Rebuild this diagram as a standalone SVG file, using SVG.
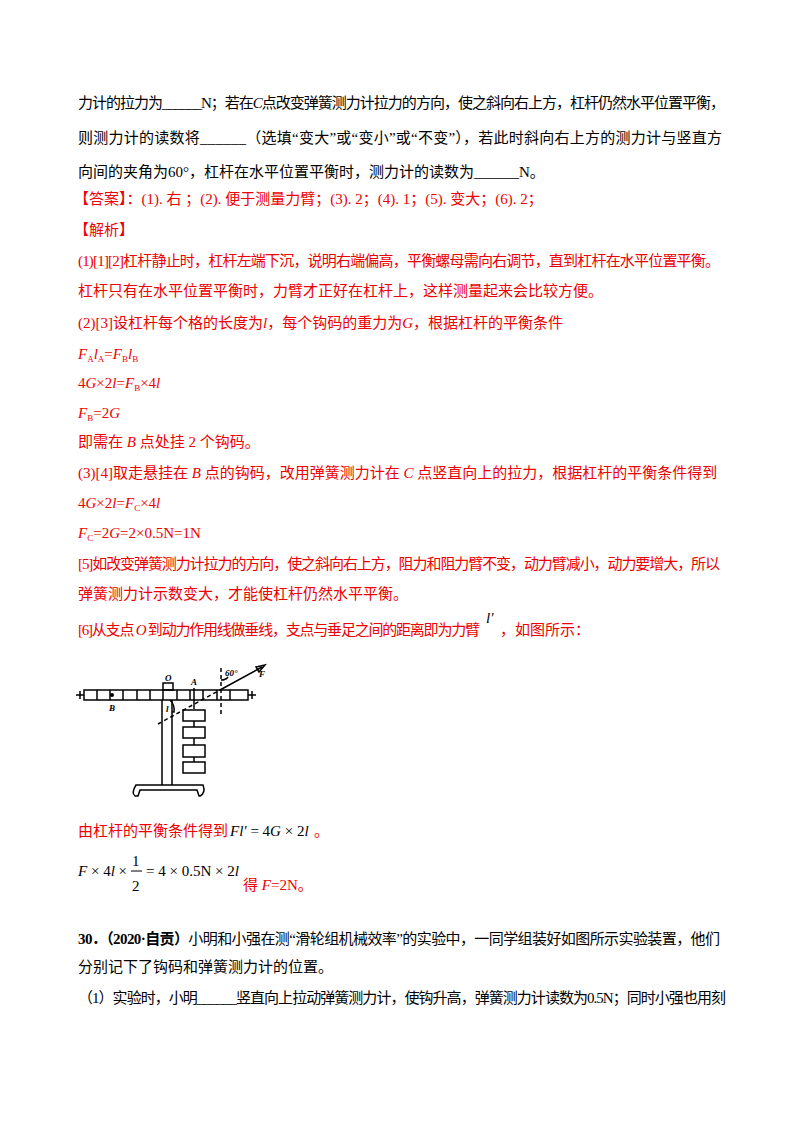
<svg xmlns="http://www.w3.org/2000/svg" width="800" height="1132" viewBox="0 0 800 1132">
<style>
text{font-family:"Liberation Serif","Noto Sans CJK SC",serif;font-size:15px;fill:#000}
.r{fill:#e00}
.i{font-style:italic}
.f line,.f rect,.f path{stroke:#000;stroke-width:1.5;fill:none}
.f text{font-size:9px;font-weight:bold;font-style:italic}
</style>
<rect width="800" height="1132" fill="#fff"/>
<g id="text">
<text x="78" y="108" textLength="647" lengthAdjust="spacing">力计的拉力为______N；若在<tspan class="i">C</tspan>点改变弹簧测力计拉力的方向，使之斜向右上方，杠杆仍然水平位置平衡，</text>
<text x="78" y="143" textLength="644" lengthAdjust="spacing">则测力计的读数将______（选填“变大”或“变小”或“不变”），若此时斜向右上方的测力计与竖直方</text>
<text x="78" y="177">向间的夹角为60°，杠杆在水平位置平衡时，测力计的读数为______N。</text>
<text class="r" x="74" y="204">【答案】：(1). 右 ；(2). 便于测量力臂；(3). 2；(4). 1；(5). 变大；(6). 2；</text>
<text class="r" x="74" y="235">【解析】</text>
<text class="r" x="78" y="266" textLength="642" lengthAdjust="spacing">(1)[1][2]杠杆静止时，杠杆左端下沉，说明右端偏高，平衡螺母需向右调节，直到杠杆在水平位置平衡。</text>
<text class="r" x="78" y="296">杠杆只有在水平位置平衡时，力臂才正好在杠杆上，这样测量起来会比较方便。</text>
<text class="r" x="78" y="328">(2)[3]设杠杆每个格的长度为<tspan class="i">l</tspan>，每个钩码的重力为<tspan class="i">G</tspan>，根据杠杆的平衡条件</text>
<text class="r" x="78" y="359"><tspan class="i">F</tspan><tspan font-size="9" dy="3">A</tspan><tspan class="i" dy="-3">l</tspan><tspan font-size="9" dy="3">A</tspan><tspan dy="-3">=</tspan><tspan class="i">F</tspan><tspan font-size="9" dy="3">B</tspan><tspan class="i" dy="-3">l</tspan><tspan font-size="9" dy="3">B</tspan></text>
<text class="r" x="78" y="388">4<tspan class="i">G</tspan>×2<tspan class="i">l</tspan>=<tspan class="i">F</tspan><tspan font-size="9" dy="3">B</tspan><tspan dy="-3">×4</tspan><tspan class="i">l</tspan></text>
<text class="r" x="78" y="418"><tspan class="i">F</tspan><tspan font-size="9" dy="3">B</tspan><tspan dy="-3">=2</tspan><tspan class="i">G</tspan></text>
<text class="r" x="78" y="447">即需在 <tspan class="i">B</tspan> 点处挂 2 个钩码。</text>
<text class="r" x="78" y="478">(3)[4]取走悬挂在 <tspan class="i">B</tspan> 点的钩码，改用弹簧测力计在 <tspan class="i">C</tspan> 点竖直向上的拉力，根据杠杆的平衡条件得到</text>
<text class="r" x="78" y="508">4<tspan class="i">G</tspan>×2<tspan class="i">l</tspan>=<tspan class="i">F</tspan><tspan font-size="9" dy="3">C</tspan><tspan dy="-3">×4</tspan><tspan class="i">l</tspan></text>
<text class="r" x="78" y="538"><tspan class="i">F</tspan><tspan font-size="9" dy="3">C</tspan><tspan dy="-3">=2</tspan><tspan class="i">G</tspan>=2×0.5N=1N</text>
<text class="r" x="78" y="569" textLength="642" lengthAdjust="spacing">[5]如改变弹簧测力计拉力的方向，使之斜向右上方，阻力和阻力臂不变，动力臂减小，动力要增大，所以</text>
<text class="r" x="78" y="599">弹簧测力计示数变大，才能使杠杆仍然水平平衡。</text>
<text class="r" x="78" y="635" textLength="402" lengthAdjust="spacing">[6]从支点 <tspan class="i">O</tspan> 到动力作用线做垂线，支点与垂足之间的距离即为力臂</text>
<text class="i" x="486" y="623" font-size="16">l′</text>
<text class="r" x="500" y="635">，如图所示：</text>
<text class="r" x="78" y="836">由杠杆的平衡条件得到</text>
<text x="230" y="836" font-size="17"><tspan class="i">Fl′</tspan> = 4<tspan class="i">G</tspan> × 2<tspan class="i">l</tspan></text>
<text class="r" x="314" y="836">。</text>
<text x="78" y="876" font-size="17"><tspan class="i">F</tspan> × 4<tspan class="i">l</tspan> ×</text>
<text x="132" y="866" font-size="17">1</text>
<line x1="131" y1="871" x2="142" y2="871" stroke="#000"/>
<text x="132" y="891" font-size="17">2</text>
<text x="146" y="876" font-size="17">= 4 × 0.5N × 2<tspan class="i">l</tspan></text>
<text class="r" x="243" y="890">得 <tspan class="i">F</tspan>=2N。</text>
<text x="78" y="944" textLength="642" lengthAdjust="spacing"><tspan font-weight="bold">30．（2020·自贡）</tspan>小明和小强在测“滑轮组机械效率”的实验中，一同学组装好如图所示实验装置，他们</text>
<text x="78" y="972">分别记下了钩码和弹簧测力计的位置。</text>
<text x="78" y="1003" textLength="648" lengthAdjust="spacing">（1）实验时，小明______竖直向上拉动弹簧测力计，使钩升高，弹簧测力计读数为0.5N；同时小强也用刻</text>
</g>
<g id="figure" class="f">
<rect x="84" y="690" width="164" height="10"/>
<path d="M97 690V700M110 690V700M123 690V700M137 690V700M150 690V700M163 690V700M177 690V700M190 690V700M203 690V700M217 690V700M230 690V700"/>
<path d="M76 695H84M80 691V699M248 695H256M252 691V699"/>
<rect x="163" y="683" width="10" height="7"/>
<path d="M162 700V785M172 700V785"/>
<path d="M136 785H203Q206 793 200 796H199L197 790H140L138 796H135Q131 793 136 785Z"/>
<circle cx="112" cy="695" r="2" fill="#000"/>
<line x1="194" y1="688" x2="194" y2="709"/>
<rect x="183" y="710" width="22" height="11"/><line x1="194" y1="721" x2="194" y2="727"/>
<rect x="183" y="727" width="22" height="11"/><line x1="194" y1="738" x2="194" y2="745"/>
<rect x="183" y="745" width="22" height="12"/><line x1="194" y1="757" x2="194" y2="762"/>
<rect x="183" y="762" width="22" height="11"/>
<line x1="221" y1="668" x2="221" y2="716" stroke-dasharray="4 3"/>
<line x1="158" y1="724" x2="220" y2="690" stroke-dasharray="4 3"/>
<line x1="220" y1="690" x2="262" y2="667"/>
<path d="M265 665L256 667L259 672Z" fill="#000"/>
<path d="M170 700Q175 705 174 712L172 712" stroke-width="1"/>
<path d="M221 680Q226 680 228 677" stroke-width="1"/>
<text x="165" y="681">O</text>
<text x="191" y="685">A</text>
<text x="109" y="711">B</text>
<text x="166" y="712" font-weight="normal">l</text>
<text x="225" y="676" font-weight="normal" font-style="normal" font-size="7">60°</text>
<text x="259" y="677" font-weight="normal">F</text>
</g>
</svg>
